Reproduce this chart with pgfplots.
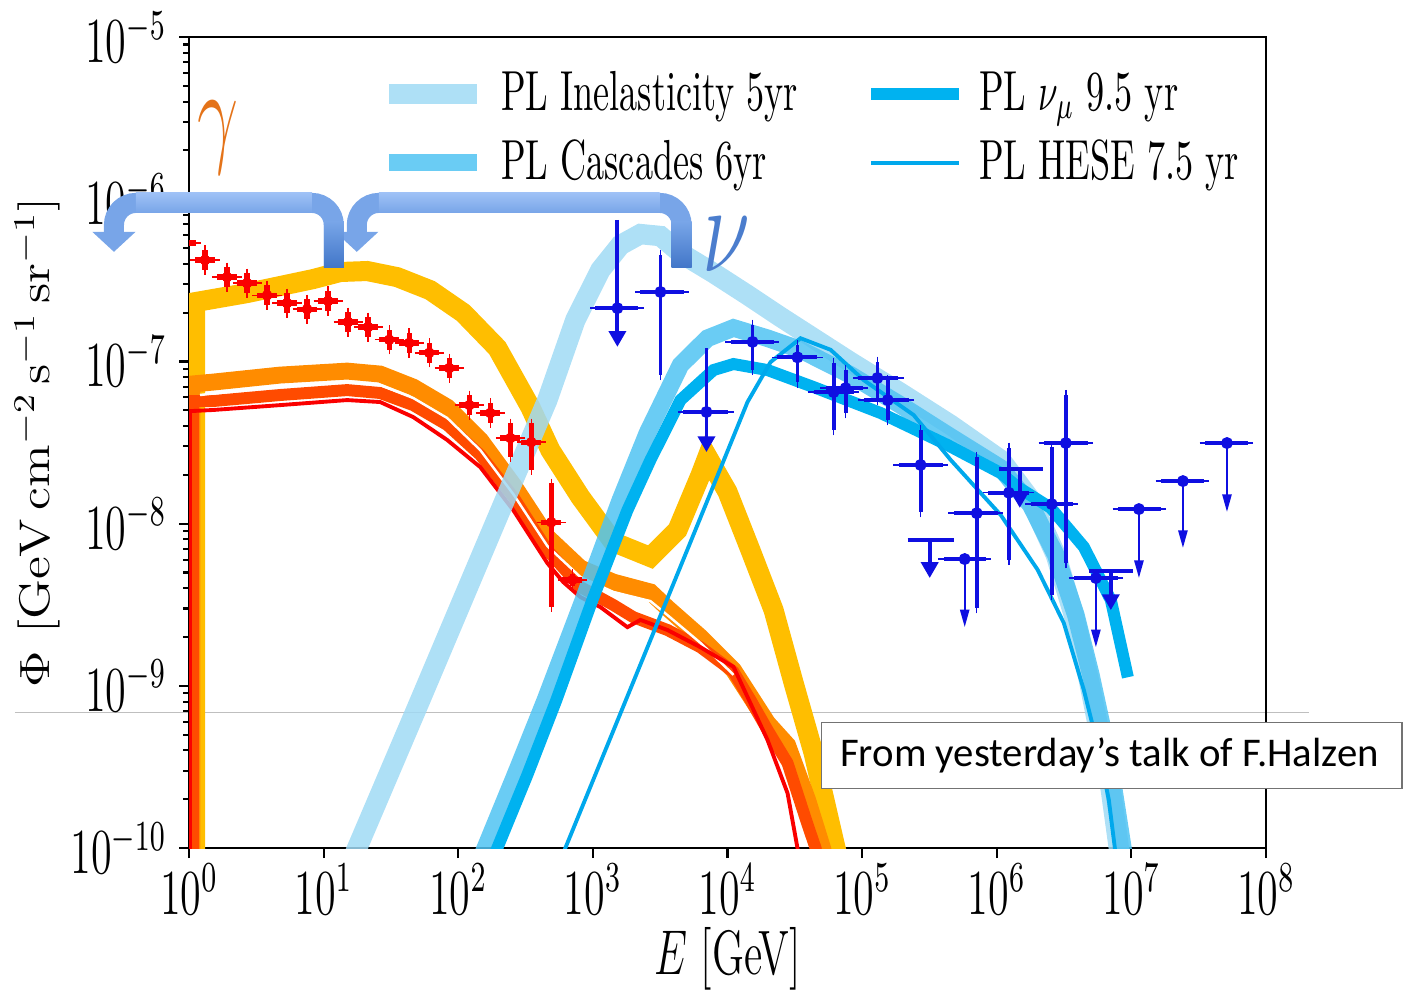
\documentclass[border=0pt]{standalone}
\usepackage{fontspec}
\newfontfamily\carlito{Carlito}
\usepackage{pgfplots}
\pgfplotsset{compat=1.18}
\usetikzlibrary{arrows.meta}

\definecolor{cgold}{RGB}{255,190,0}
\definecolor{corange}{RGB}{255,140,0}
\definecolor{credor}{RGB}{255,75,0}
\definecolor{cred}{RGB}{250,0,0}
\definecolor{cinel}{RGB}{160,218,245}
\definecolor{ccasc}{RGB}{80,195,242}
\definecolor{cnumu}{RGB}{0,178,240}
\definecolor{chese}{RGB}{0,168,236}
\definecolor{cblue}{RGB}{15,15,225}
\definecolor{carrowlt}{RGB}{158,193,246}
\definecolor{carrow}{RGB}{120,165,232}
\definecolor{carrowdk}{RGB}{65,118,200}
\definecolor{cgamma}{RGB}{228,115,25}
\definecolor{cnu}{RGB}{75,125,205}

% the source figure is stretched vertically
\newcommand\vs[1]{\scalebox{1}[1.52]{#1}}
\newcommand\vsl[1]{\scalebox{1}[1.56]{#1}}

\pgfplotsset{
  inel/.style={cinel, line width=5.8pt, opacity=0.85},
  casc/.style={ccasc, line width=5.0pt, opacity=0.85},
  numu/.style={cnumu, line width=3.4pt},
  hese/.style={chese, line width=1.1pt},
}

\begin{document}
\begin{tikzpicture}
\path[use as bounding box] (0,0) rectangle (14.04,-9.89);
\begin{scope}[x=0.01cm,y=-0.01cm]
  \draw[black!25, line width=0.4pt] (15,713) -- (1310,713);
\end{scope}
\begin{axis}[
  at={(1.89cm,-8.48cm)}, anchor=south west,
  scale only axis, width=10.77cm, height=8.11cm,
  xmode=log, ymode=log, log basis x=10, log basis y=10,
  xmin=1, xmax=1e8, ymin=1e-10, ymax=1e-5,
  xminorticks=false,
  tick pos=left, tick align=outside,
  major tick length=0.1cm, minor tick length=0.06cm,
  tick style={black, line width=0.6pt},
  axis line style={line width=0.8pt},
  tick label style={font=\fontsize{11.7}{13}\selectfont},
  xticklabel style={inner sep=1.5pt},
  xticklabel={\vs{$10^{\pgfmathparse{int(round(\tick))}\pgfmathresult}$}},
  yticklabel={\vs{$10^{\pgfmathparse{int(round(\tick))}\pgfmathresult}$}},
  xlabel={\scalebox{1}[1.5]{$E$ [GeV]}},
  ylabel={\scalebox{1.22}[1]{$\Phi\ [\mathrm{GeV\,cm^{-2}\,s^{-1}\,sr^{-1}}]$}},
  xlabel style={font=\fontsize{11.9}{13}\selectfont, at={(axis description cs:0.5,-0.137)}, anchor=center, inner sep=0pt},
  ylabel style={font=\fontsize{12.2}{13}\selectfont, at={(axis description cs:-0.141,0.5)}, anchor=center},
  clip marker paths=true,
  legend columns=2,
  legend cell align=left,
  legend style={at={(0.1755,0.967)}, anchor=north west, draw=none, fill=none,
    font=\fontsize{10.3}{12}\selectfont, row sep=0.1cm, inner sep=0pt,
    /tikz/every even column/.append style={column sep=0.6cm}},
  legend image code/.code={\draw[#1] (0cm,0cm) -- (0.88cm,0cm); \path (0.95cm,0cm);},
]

% gamma-ray models
\addplot[forget plot, cgold, line width=5.7pt] coordinates {
(1.108,1e-11) (1.108,2.32e-7) (2.70,2.64e-7) (8.36,3.22e-7) (13.27,3.56e-7) (21.06,3.61e-7)
(35.2,3.31e-7) (61.9,2.75e-7) (109,1.99e-7) (195,1.21e-7) (343,5.23e-8) (483,2.84e-8)
(807,1.46e-8) (1420,7.70e-9) (2677,6.22e-9) (4250,9.13e-9) (6300,1.99e-8) (7100,2.58e-8)
(1.0e4,1.57e-8) (1.48e4,6.87e-9) (2.20e4,2.93e-9) (3.10e4,1.04e-9) (4.36e4,3.85e-10)
(6.35e4,1e-10) (7.94e4,4.8e-11)};
\addplot[forget plot, corange, line width=4.8pt] coordinates {
(1.053,1e-11) (1.053,7.26e-8) (1.508,7.46e-8) (4.75,8.24e-8) (14.95,8.72e-8) (26.3,8.36e-8)
(46.3,6.95e-8) (82.8,5.23e-8) (145.8,3.28e-8) (256.5,1.73e-8) (459,8.27e-9) (807,5.32e-9)
(1420,4.36e-9) (2677,3.79e-9) (3581,3.02e-9) (6300,2.00e-9) (1.108e4,1.25e-9)
(1.984e4,5.90e-10) (2.793e4,4.31e-10) (3.935e4,1.98e-10) (5.08e4,1e-10) (6.35e4,4.8e-11)};
\addplot[forget plot, credor, line width=3.4pt] coordinates {
(1.071,1e-11) (1.071,5.70e-8) (1.508,5.70e-8) (4.75,6.21e-8) (14.95,6.66e-8) (26.3,6.39e-8)
(46.3,5.38e-8) (82.8,4.06e-8) (145.8,2.65e-8) (256.5,1.46e-8) (459,6.87e-9) (807,4.07e-9)
(1420,3.15e-9) (2000,2.65e-9) (3581,2.21e-9) (6300,1.73e-9) (1.108e4,1.22e-9)
(1.483e4,8.17e-10) (1.984e4,5.34e-10) (2.793e4,3.34e-10) (3.94e4,1.39e-10) (4.51e4,1e-10)
(5.35e4,4.8e-11)};
\addplot[forget plot, white, line width=0.7pt] coordinates {
(1.207,6.21e-8) (4.75,7.05e-8) (14.95,7.46e-8) (26.3,7.15e-8) (46.3,5.95e-8) (82.8,4.48e-8)
(145.8,2.84e-8) (256.5,1.52e-8) (459,7.28e-9) (807,4.69e-9) (1420,3.79e-9) (2677,3.33e-9)
(3581,2.73e-9) (6300,1.84e-9) (1.108e4,1.17e-9)};
\addplot[forget plot, cred, line width=1.1pt] coordinates {
(1.017,1e-11) (1.017,4.94e-8) (1.508,5.02e-8) (4.75,5.38e-8) (14.95,5.78e-8) (26.3,5.62e-8)
(46.3,4.54e-8) (82.8,3.28e-8) (145.8,2.23e-8) (256.5,1.21e-8) (459,5.71e-9) (603,4.36e-9)
(807,3.53e-9) (1137,3.06e-9) (1805,2.30e-9) (2255,2.55e-9) (3581,2.21e-9) (6300,1.73e-9)
(1.108e4,1.31e-9) (1.984e4,4.63e-10) (2.793e4,2.18e-10) (3.31e4,1e-10) (3.80e4,4.8e-11)};

% neutrino power-law fits
\addplot[forget plot, inel] coordinates {
(13.04,5.5e-11) (17.75,1e-10) (52.2,8.17e-10) (191.7,1.05e-8) (459,5.78e-8) (741,1.80e-7)
(1137,3.66e-7) (1602,5.22e-7) (2255,6.10e-7) (3177,5.93e-7) (4473,4.66e-7) (7870,3.51e-7)
(1.408e4,2.57e-7) (2.478e4,1.88e-7) (4.36e4,1.39e-7) (8.21e4,9.91e-8) (1.933e5,6.39e-8)
(4.55e5,4.06e-8) (1.071e6,2.47e-8) (1.789e6,1.40e-8) (2.746e6,6.41e-9) (3.737e6,2.73e-9)
(4.83e6,1.09e-9) (5.93e6,4.63e-10) (7.04e6,2.28e-10) (8.07e6,1e-10) (9.26e6,4.8e-11)};
\addplot[forget plot, casc] coordinates {
(118.7,5.5e-11) (158.8,1e-10) (265.3,2.82e-10) (443.6,8.17e-10) (850,3.38e-9) (1602,1.40e-8)
(2543,3.62e-8) (4473,9.50e-8) (7100,1.39e-7) (1.108e4,1.61e-7) (1.984e4,1.39e-7)
(3.49e4,1.18e-7) (8.21e4,8.25e-8) (1.933e5,5.38e-8) (4.32e5,3.52e-8) (1.071e6,2.20e-8)
(1.789e6,1.30e-8) (2.746e6,6.41e-9) (3.87e6,2.73e-9) (5.00e6,1.17e-9) (6.25e6,4.98e-10)
(7.41e6,2.28e-10) (8.65e6,1e-10) (9.92e6,4.8e-11)};
\addplot[forget plot, numu] coordinates {
(145.8,5.5e-11) (195,1e-10) (325.8,2.82e-10) (535.3,8.17e-10) (991.5,3.38e-9) (1805,1.21e-8)
(2677,2.47e-8) (4473,5.78e-8) (7870,8.85e-8) (1.108e4,9.64e-8) (1.984e4,8.85e-8)
(4.36e4,6.95e-8) (1.372e5,4.81e-8) (4.32e5,3.05e-8) (1.071e6,2.05e-8) (1.433e6,1.68e-8)
(2.52e6,1.25e-8) (4.436e6,7.18e-9) (7.04e6,3.38e-9) (9.42e6,1.13e-9)};
\addplot[forget plot, hese] coordinates {
(467,5.5e-11) (624.4,1e-10) (1900,9.56e-10) (5309,7.70e-9) (1.408e4,5.62e-8) (2.088e4,9.91e-8)
(3.49e4,1.39e-7) (5.832e4,1.18e-7) (1.026e5,7.68e-8) (2.415e5,4.67e-8) (4.55e5,2.47e-8)
(1.071e6,1.13e-8) (2.017e6,5.18e-9) (3.148e6,2.44e-9) (4.436e6,9.42e-10) (5.734e6,4.02e-10)
(6.80e6,1.98e-10) (7.54e6,1e-10) (8.36e6,4.8e-11)};

% Fermi-LAT data
\addplot[forget plot, cred, only marks, mark=*, mark size=1.3pt,
  error bars/.cd, x dir=both, y dir=both, x explicit relative, y explicit relative,
  error mark options={draw=none}, error bar style={line width=1.5pt}]
  table[x=x, y=y, x error plus=xp, x error minus=xm, y error plus=yp, y error minus=ym] {
x      y       xp    xm    yp    ym
0.950  5.37e-7 0.187 0.157 0.152 0.132
1.315  4.22e-7 0.187 0.157 0.152 0.132
1.917  3.31e-7 0.187 0.157 0.152 0.132
2.70   3.04e-7 0.187 0.157 0.152 0.132
3.80   2.56e-7 0.187 0.157 0.152 0.132
5.35   2.29e-7 0.187 0.157 0.152 0.132
7.54   2.10e-7 0.187 0.157 0.152 0.132
10.8   2.36e-7 0.187 0.157 0.152 0.132
15.2   1.75e-7 0.187 0.157 0.152 0.132
21.4   1.63e-7 0.187 0.157 0.152 0.132
30.7   1.36e-7 0.187 0.157 0.152 0.132
43.2   1.30e-7 0.187 0.157 0.152 0.132
60.9   1.13e-7 0.187 0.157 0.152 0.132
85.7   9.10e-8 0.187 0.157 0.152 0.132
121    5.38e-8 0.187 0.157 0.152 0.132
173    4.81e-8 0.187 0.157 0.152 0.132
244    3.37e-8 0.187 0.157 0.237 0.236
349    3.18e-8 0.187 0.157 0.309 0.328
491    1.02e-8 0.187 0.157 0.739 0.701
704    4.49e-9 0.187 0.157 0.089 0.082
};

% IceCube data: measurements
\addplot[forget plot, cblue, only marks, mark=*, mark size=1.5pt,
  error bars/.cd, x dir=both, y dir=both, x explicit relative, y explicit relative,
  error mark options={draw=none}, error bar style={line width=1.1pt}]
  table[x=x, y=y, x error plus=xp, x error minus=xm, y error plus=yp, y error minus=ym] {
x        y       xp    xm    yp    ym
3177     2.68e-7 0.483 0.290 0.691 0.692
1.535e4  1.32e-7 0.432 0.314 0.273 0.328
3.31e4   1.06e-7 0.408 0.290 0.186 0.299
6.14e4   6.47e-8 0.408 0.290 0.510 0.417
7.54e4   6.85e-8 0.338 0.290 0.291 0.299
1.30e5   7.91e-8 0.432 0.278 0.255 0.268
1.55e5   5.78e-8 0.432 0.337 0.328 0.247
2.72e5   2.30e-8 0.457 0.314 0.644 0.487
7.10e5   1.16e-8 0.432 0.325 1.214 0.740
1.23e6   1.55e-8 0.408 0.302 0.894 0.614
2.56e6   1.32e-8 0.432 0.302 1.246 0.725
3.26e6   3.14e-8 0.457 0.314 0.977 0.818
};
% IceCube data: upper limits (bins with a point)
\addplot[forget plot, cblue, only marks, mark=*, mark size=1.5pt,
  error bars/.cd, x dir=both, y dir=none, x explicit relative,
  error mark options={draw=none}, error bar style={line width=1.1pt}]
  table[x=x, y=y, x error plus=xp, x error minus=xm] {
x        y       xp    xm
1521     2.13e-7 0.432 0.314
6980     4.88e-8 0.457 0.325
5.78e5   6.05e-9 0.432 0.302
5.45e6   4.62e-9 0.457 0.314
1.138e7  1.23e-8 0.457 0.302
2.415e7  1.83e-8 0.432 0.314
5.13e7   3.14e-8 0.432 0.314
};
% IceCube data: upper limits (bins without a point), bin edges
\addplot[forget plot, cblue, line width=1.1pt] coordinates {(2.179e5,7.93e-9) (4.791e5,7.93e-9)};
\addplot[forget plot, cblue, line width=1.1pt] coordinates {(1.035e6,2.17e-8) (2.199e6,2.17e-8)};
\addplot[forget plot, cblue, line width=1.1pt] coordinates {(4.83e6,5.11e-9) (1.026e7,5.11e-9)};
% arrows of the upper limits
\pgfplotsset{ulthick/.style={forget plot, cblue, line width=1.1pt, -{Triangle[width=4.8pt,length=4.5pt]}},
             ulthin/.style={forget plot, cblue, line width=0.6pt, -{Triangle[width=2.6pt,length=5pt]}}}
\addplot[ulthick] coordinates {(1521,7.45e-7) (1521,1.23e-7)};
\addplot[ulthick] coordinates {(6980,1.21e-7) (6980,2.76e-8)};
\addplot[ulthick] coordinates {(3.177e5,7.93e-9) (3.177e5,4.62e-9)};
\addplot[ulthick] coordinates {(1.483e6,2.17e-8) (1.483e6,1.25e-8)};
\addplot[ulthick] coordinates {(7.04e6,5.11e-9) (7.04e6,2.93e-9)};
\addplot[ulthin] coordinates {(5.78e5,6.05e-9) (5.78e5,2.30e-9)};
\addplot[ulthin] coordinates {(5.45e6,4.62e-9) (5.45e6,1.73e-9)};
\addplot[ulthin] coordinates {(1.138e7,1.23e-8) (1.138e7,4.62e-9)};
\addplot[ulthin] coordinates {(2.415e7,1.83e-8) (2.415e7,7.08e-9)};
\addplot[ulthin] coordinates {(5.13e7,3.14e-8) (5.13e7,1.18e-8)};

\addlegendimage{inel}\addlegendentry{\vsl{PL Inelasticity 5yr}}
\addlegendimage{numu}\addlegendentry{\vsl{PL $\nu_\mu$ 9.5 yr}}
\addlegendimage{casc}\addlegendentry{\vsl{PL Cascades 6yr}}
\addlegendimage{hese}\addlegendentry{\vsl{PL HESE 7.5 yr}}
\end{axis}

\begin{scope}[x=0.01cm,y=-0.01cm]
  \draw[carrow, line width=0.2cm, rounded corners=0.22cm, -{Triangle[width=0.42cm,length=0.2cm]}]
    (334,268) -- (334,203) -- (114,203) -- (114,252);
  \draw[carrow, line width=0.2cm, rounded corners=0.22cm, -{Triangle[width=0.42cm,length=0.2cm]}]
    (682,268) -- (682,203) -- (357,203) -- (357,252);
  \shade[top color=carrowlt, bottom color=carrow] (136,193) rectangle (312,213);
  \shade[top color=carrowlt, bottom color=carrow] (379,193) rectangle (660,213);
  \shade[top color=carrow, bottom color=carrowdk] (324,222) rectangle (344,268);
  \shade[top color=carrow, bottom color=carrowdk] (672,222) rectangle (692,268);
  \node[text=cgamma, inner sep=0pt, font=\fontsize{20}{20}\selectfont] at (218,138) {\scalebox{1}[1.6]{$\gamma$}};
  \node[text=cnu, inner sep=0pt, font=\fontsize{24}{24}\selectfont] at (727,245) {\scalebox{1}[1.44]{$\nu$}};
  \filldraw[fill=white, draw=black!55, line width=0.5pt] (822,723) rectangle (1403,789);
  \node[anchor=west, inner sep=0pt, font=\carlito\fontsize{11.6}{13}\selectfont] at (840,756) {From yesterday’s talk of F.Halzen};
\end{scope}
\end{tikzpicture}
\end{document}
